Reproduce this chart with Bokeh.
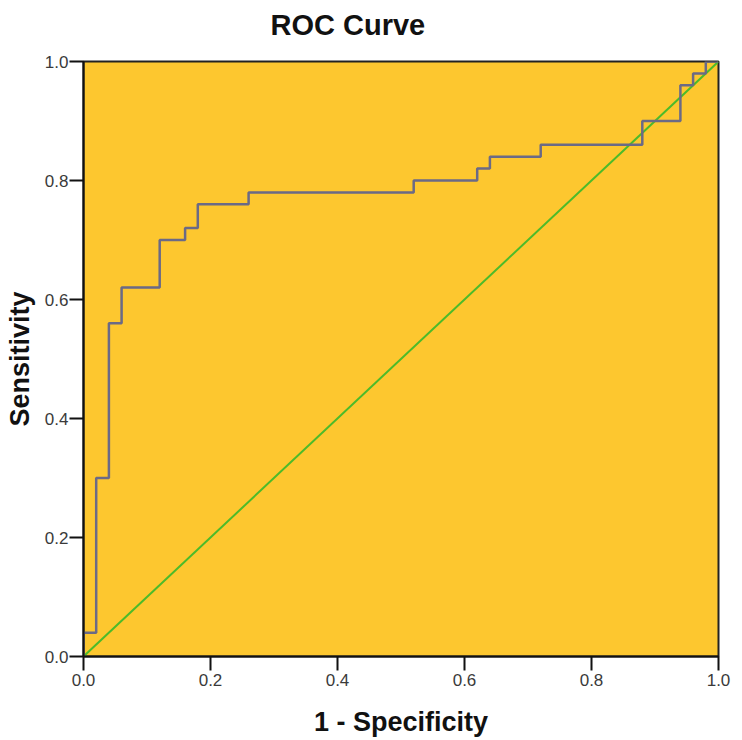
from bokeh.plotting import figure
from bokeh.models import Range1d, FixedTicker, Title
from bokeh.embed import file_html
from bokeh.resources import INLINE

# ROC coordinates (1 - specificity, sensitivity)
fpr = [0.0, 0.0, 0.02, 0.04, 0.06, 0.12, 0.16, 0.18, 0.26, 0.52, 0.62, 0.64, 0.72, 0.88, 0.94, 0.96, 0.98, 1.0]
tpr = [0.0, 0.04, 0.30, 0.56, 0.62, 0.70, 0.72, 0.76, 0.78, 0.80, 0.82, 0.84, 0.86, 0.90, 0.96, 0.98, 1.0, 1.0]
ref_x = [0.0, 1.0]
ref_y = [0.0, 1.0]
ticks = [0.0, 0.2, 0.4, 0.6, 0.8, 1.0]
tick_labels = {0.0: "0.0", 0.2: "0.2", 0.4: "0.4", 0.6: "0.6", 0.8: "0.8", 1.0: "1.0"}

FONT = "Liberation Sans"

p = figure(width=742, height=740, output_backend="svg", toolbar_location=None,
           x_range=Range1d(0, 1), y_range=Range1d(0, 1),
           min_border_left=83, min_border_right=24, min_border_top=61, min_border_bottom=84)

# spacer between frame and title, then the title itself (stacked outward)
p.add_layout(Title(text=" ", text_font_size="12px", standoff=0), "above")
p.add_layout(Title(text="ROC Curve", align="left", offset=187, text_font=FONT,
                   text_font_size="29px", text_font_style="bold", text_color="#111111"), "above")

p.background_fill_color = "#fdc72f"
p.border_fill_color = "white"
p.outline_line_color = "#222222"
p.outline_line_width = 2
p.xgrid.visible = False
p.ygrid.visible = False

for ax in (p.xaxis[0], p.yaxis[0]):
    ax.ticker = FixedTicker(ticks=ticks)
    ax.major_label_overrides = tick_labels
    ax.minor_tick_line_color = None
    ax.major_tick_in = 0
    ax.major_tick_out = 14
    ax.major_tick_line_color = "#111111"
    ax.major_tick_line_width = 2
    ax.axis_line_color = "#111111"
    ax.axis_line_width = 2
    ax.major_label_text_font = FONT
    ax.major_label_text_font_size = "17px"
    ax.major_label_text_color = "#3a3a3a"
    ax.axis_label_text_font = FONT
    ax.axis_label_text_font_size = "27px"
    ax.axis_label_text_font_style = "bold"
    ax.axis_label_text_color = "#111111"

p.xaxis.axis_label = "1 - Specificity"
p.yaxis.axis_label = "Sensitivity"
p.xaxis.major_label_standoff = 3
p.yaxis.major_label_standoff = 1
p.xaxis.axis_label_standoff = 18
p.yaxis.axis_label_standoff = 7

p.line(ref_x, ref_y, line_color="#4cbb2a", line_width=2)
p.step(fpr, tpr, mode="after", line_color="#6b6a86", line_width=2.5)

open("out.html", "w").write(file_html(p, INLINE))
